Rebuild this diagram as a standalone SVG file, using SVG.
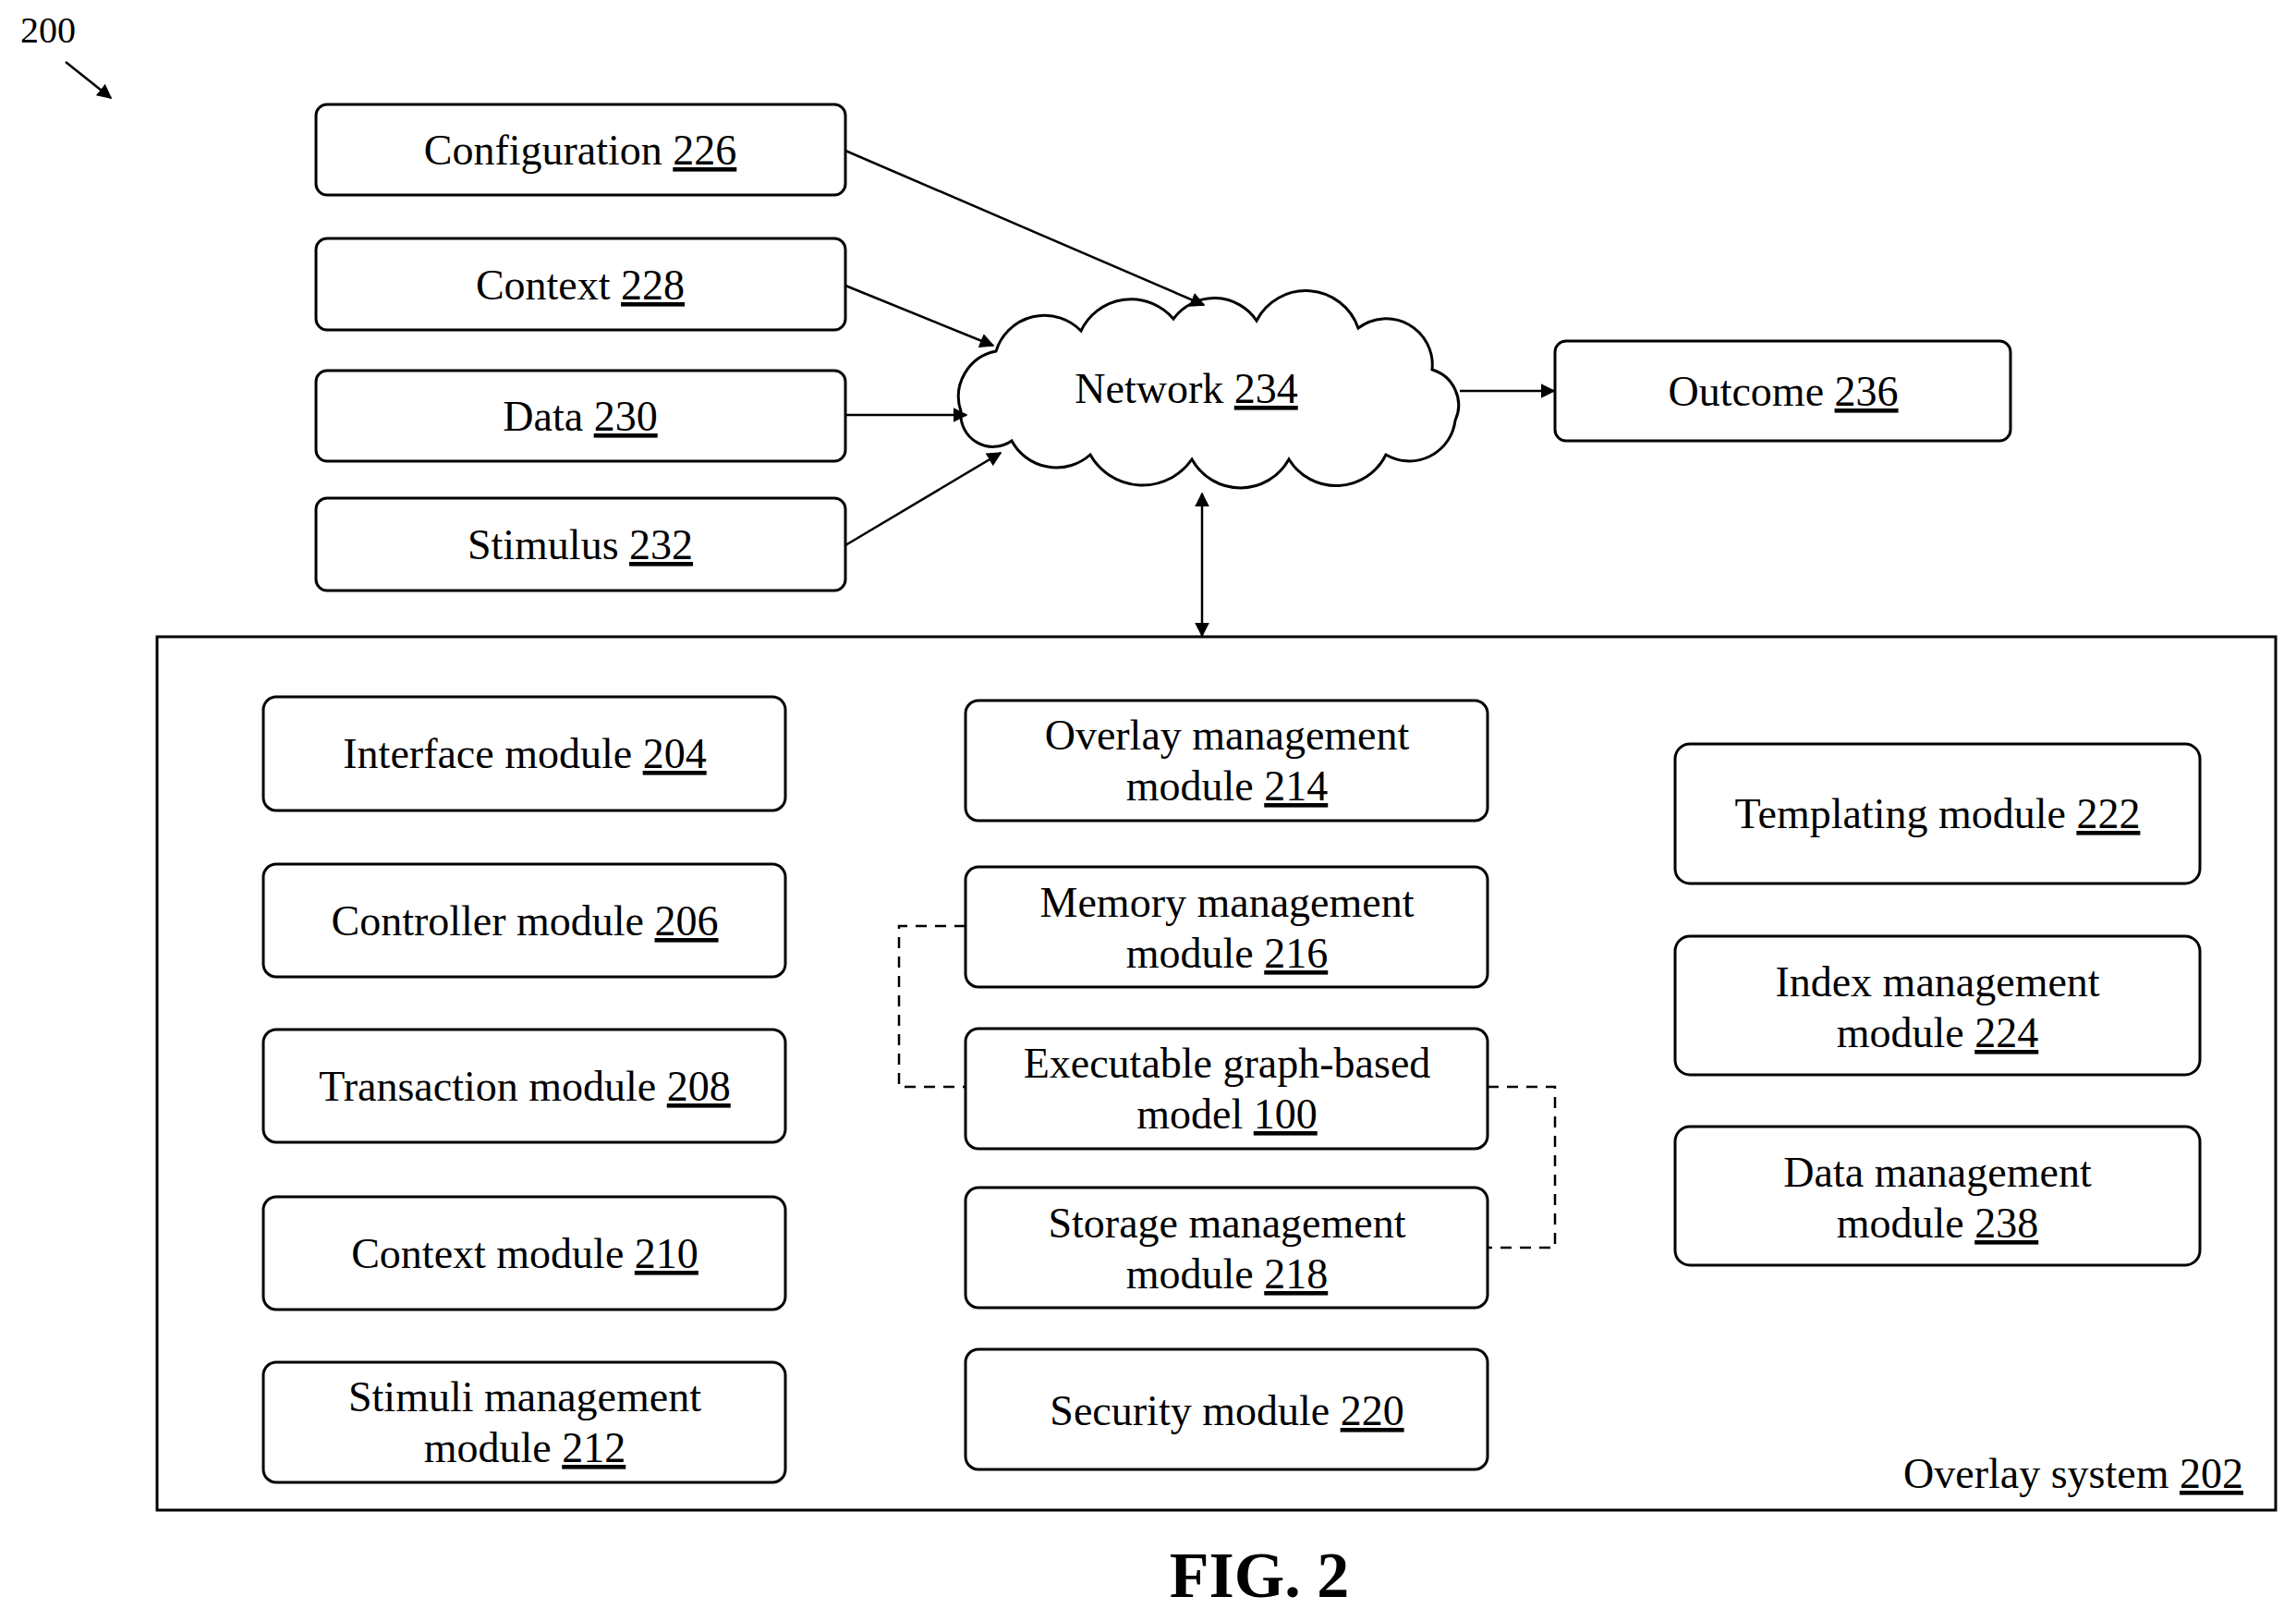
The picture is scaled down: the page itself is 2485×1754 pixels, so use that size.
<svg xmlns="http://www.w3.org/2000/svg" width="2485" height="1754" viewBox="0 0 2485 1754">
<style>
.b{fill:#fff;stroke:#000;stroke-width:3}
.t{font-family:"Liberation Serif",serif;font-size:46px;text-anchor:middle;fill:#000}
.u{text-decoration:underline}
.c{stroke:#000;stroke-width:2.5;fill:none}
.d{stroke:#000;stroke-width:2.5;fill:none;stroke-dasharray:12,9}
</style>
<defs>
<marker id="a2" viewBox="0 0 10 10" refX="9" refY="5" markerWidth="16" markerHeight="16" orient="auto-start-reverse" markerUnits="userSpaceOnUse"><path d="M0,0 L10,5 L0,10 z"/></marker>
</defs>
<rect width="2485" height="1754" fill="#fff"/>
<text x="52" y="46" class="t" style="font-size:40px">200</text>
<g id="container"><rect x="170" y="689" width="2293" height="945" fill="none" stroke="#000" stroke-width="3"/>
<text x="2428" y="1610" class="t" style="text-anchor:end">Overlay system <tspan class="u">202</tspan></text></g>
<g id="network"><path class="b" d="M1040,445 A50,50 0 0 1 1078,380 A55,55 0 0 1 1170,358 A60,60 0 0 1 1270,345 A55,55 0 0 1 1360,347 A60,60 0 0 1 1470,355 A50,50 0 0 1 1550,400 A40,40 0 0 1 1575,455 A50,50 0 0 1 1500,492 A60,60 0 0 1 1395,497 A60,60 0 0 1 1290,497 A65,65 0 0 1 1180,492 A55,55 0 0 1 1095,477 A35,35 0 0 1 1040,445 Z"/>
<text x="1284" y="436" class="t">Network <tspan class="u">234</tspan></text></g>
<g id="n226"><rect class="b" x="342" y="113" width="573" height="98" rx="12"/><text x="628" y="178" class="t">Configuration <tspan class="u">226</tspan></text></g>
<g id="n228"><rect class="b" x="342" y="258" width="573" height="99" rx="12"/><text x="628" y="324" class="t">Context <tspan class="u">228</tspan></text></g>
<g id="n230"><rect class="b" x="342" y="401" width="573" height="98" rx="12"/><text x="628" y="466" class="t">Data <tspan class="u">230</tspan></text></g>
<g id="n232"><rect class="b" x="342" y="539" width="573" height="100" rx="12"/><text x="628" y="605" class="t">Stimulus <tspan class="u">232</tspan></text></g>
<g id="n236"><rect class="b" x="1683" y="369" width="493" height="108" rx="12"/><text x="1930" y="439" class="t">Outcome <tspan class="u">236</tspan></text></g>
<g id="n204"><rect class="b" x="285" y="754" width="565" height="123" rx="14"/><text x="568" y="831" class="t">Interface module <tspan class="u">204</tspan></text></g>
<g id="n206"><rect class="b" x="285" y="935" width="565" height="122" rx="14"/><text x="568" y="1012" class="t">Controller module <tspan class="u">206</tspan></text></g>
<g id="n208"><rect class="b" x="285" y="1114" width="565" height="122" rx="14"/><text x="568" y="1191" class="t">Transaction module <tspan class="u">208</tspan></text></g>
<g id="n210"><rect class="b" x="285" y="1295" width="565" height="122" rx="14"/><text x="568" y="1372" class="t">Context module <tspan class="u">210</tspan></text></g>
<g id="n212"><rect class="b" x="285" y="1474" width="565" height="130" rx="14"/><text x="568" y="1527" class="t">Stimuli management</text><text x="568" y="1582" class="t">module <tspan class="u">212</tspan></text></g>
<g id="n214"><rect class="b" x="1045" y="758" width="565" height="130" rx="14"/><text x="1328" y="811" class="t">Overlay management</text><text x="1328" y="866" class="t">module <tspan class="u">214</tspan></text></g>
<g id="n216"><rect class="b" x="1045" y="938" width="565" height="130" rx="14"/><text x="1328" y="992" class="t">Memory management</text><text x="1328" y="1047" class="t">module <tspan class="u">216</tspan></text></g>
<g id="n100"><rect class="b" x="1045" y="1113" width="565" height="130" rx="14"/><text x="1328" y="1166" class="t">Executable graph-based</text><text x="1328" y="1221" class="t">model <tspan class="u">100</tspan></text></g>
<g id="n218"><rect class="b" x="1045" y="1285" width="565" height="130" rx="14"/><text x="1328" y="1339" class="t">Storage management</text><text x="1328" y="1394" class="t">module <tspan class="u">218</tspan></text></g>
<g id="n220"><rect class="b" x="1045" y="1460" width="565" height="130" rx="14"/><text x="1328" y="1542" class="t">Security module <tspan class="u">220</tspan></text></g>
<g id="n222"><rect class="b" x="1813" y="805" width="568" height="151" rx="16"/><text x="2097" y="896" class="t">Templating module <tspan class="u">222</tspan></text></g>
<g id="n224"><rect class="b" x="1813" y="1013" width="568" height="150" rx="16"/><text x="2097" y="1078" class="t">Index management</text><text x="2097" y="1133" class="t">module <tspan class="u">224</tspan></text></g>
<g id="n238"><rect class="b" x="1813" y="1219" width="568" height="150" rx="16"/><text x="2097" y="1284" class="t">Data management</text><text x="2097" y="1339" class="t">module <tspan class="u">238</tspan></text></g>
<g id="connectors">
<line class="c" x1="71" y1="67" x2="120" y2="106" marker-end="url(#a2)"/>
<line class="c" x1="915" y1="163" x2="1303" y2="330" marker-end="url(#a2)"/>
<line class="c" x1="915" y1="309" x2="1075" y2="374" marker-end="url(#a2)"/>
<line class="c" x1="915" y1="449" x2="1046" y2="449" marker-end="url(#a2)"/>
<line class="c" x1="915" y1="590" x2="1083" y2="490" marker-end="url(#a2)"/>
<line class="c" x1="1580" y1="423" x2="1682" y2="423" marker-end="url(#a2)"/>
<line class="c" x1="1301" y1="534" x2="1301" y2="688" marker-start="url(#a2)" marker-end="url(#a2)"/>
<polyline class="d" points="1045,1002 973,1002 973,1176 1045,1176"/>
<polyline class="d" points="1610,1176 1683,1176 1683,1350 1610,1350"/>
</g>
<text x="1363" y="1728" class="t" style="font-weight:bold;font-size:70px">FIG. 2</text>
</svg>
